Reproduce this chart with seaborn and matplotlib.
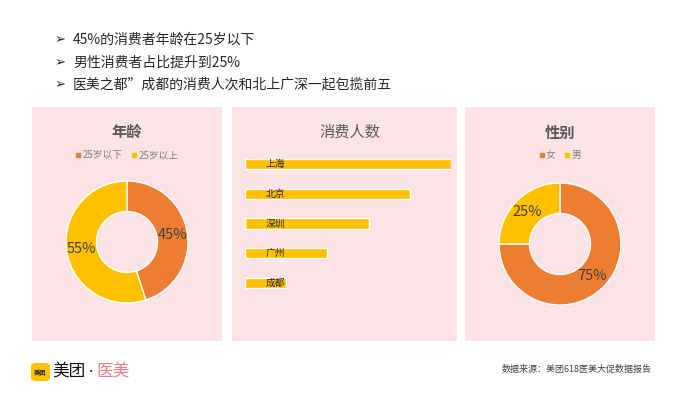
"""Meituan 618 medical-beauty consumer summary: two donuts and a bar panel."""

import matplotlib
matplotlib.use("Agg")
import matplotlib.pyplot as plt
from matplotlib.patches import Rectangle, FancyBboxPatch
from matplotlib.lines import Line2D
import seaborn as sns
import pandas as pd

sns.set_theme(style="white")
plt.rcParams['font.family'] = ['Noto Sans CJK SC', 'DejaVu Sans']
plt.rcParams['axes.unicode_minus'] = False

# data
bullets = ["45%的消费者年龄在25岁以下",
           "男性消费者占比提升到25%",
           "医美之都”成都的消费人次和北上广深一起包揽前五"]
age_labels = ["25岁以下", "25岁以上"]
age_values = [45, 55]
cities = ["上海", "北京", "深圳", "广州", "成都"]
city_values = [5, 4, 3, 2, 1]
gender_labels = ["女", "男"]
gender_values = [75, 25]

ORANGE = "#ED7D31"
YELLOW = "#FFC000"
PINK_BG = "#FCE4E6"
TITLE_C = "#595959"
TEXT_C = "#404040"

W, H = 700, 394
fig = plt.figure(figsize=(7, 3.94), dpi=100)
fig.patch.set_facecolor("white")


def px_box(x, y, w, h):
    # pixel box (top-left origin) -> figure fraction
    return [x / W, 1 - (y + h) / H, w / W, h / H]


# panel backgrounds (kept behind the axes)
for (x0, x1) in [(32, 222), (232, 457), (465, 655)]:
    fig.patches.append(Rectangle((x0 / W, 1 - 341 / H), (x1 - x0) / W, (341 - 107) / H,
                                 transform=fig.transFigure, facecolor=PINK_BG,
                                 edgecolor="none", zorder=-10))

# bullet points
for i, line in enumerate(bullets):
    yy = 1 - (40 + i * 22.5) / H
    fig.text(55 / W, yy, "➢", fontsize=9.5, color="#262626", va="center",
             family=['DejaVu Sans'])
    fig.text(73 / W, yy, line, fontsize=10, color="#262626", va="center")

# panel titles
fig.text(127 / W, 1 - 132 / H, "年龄", fontsize=11, fontweight="bold",
         color=TITLE_C, ha="center", va="center")
fig.text(350 / W, 1 - 132 / H, "消费人数", fontsize=11, color=TITLE_C,
         ha="center", va="center")
fig.text(560 / W, 1 - 133 / H, "性别", fontsize=11, fontweight="bold",
         color=TITLE_C, ha="center", va="center")


def donut(box, values, labels, legend_y):
    ax = fig.add_axes(px_box(*box))
    ax.set_zorder(2)
    wedges, _, autotexts = ax.pie(values, colors=[ORANGE, YELLOW], startangle=90,
                                  counterclock=False, autopct="%d%%", pctdistance=0.75,
                                  wedgeprops=dict(width=0.5, edgecolor="white", linewidth=1))
    for t in autotexts:
        t.set_color(TEXT_C)
        t.set_fontsize(10.5)
    ax.set_xlim(-1, 1)
    ax.set_ylim(-1, 1)
    ax.set_aspect("equal")
    handles = [Line2D([], [], marker="s", linestyle="none", markersize=3.5,
                      color=c) for c in [ORANGE, YELLOW]]
    ax.legend(handles, labels, ncol=2, frameon=False, loc="center",
              bbox_to_anchor=(0.5, legend_y), fontsize=7, handletextpad=0.15,
              handlelength=0.6, columnspacing=0.9, labelcolor="#7F7F7F")
    return ax


donut((66, 181, 122, 122), age_values, age_labels, 1.21)
donut((499, 183, 122, 122), gender_values, gender_labels, 1.23)

# city bar chart
bar_df = pd.DataFrame({"city": cities, "value": city_values})
axb = fig.add_axes(px_box(245, 149, 206, 149))
axb.set_zorder(2)
sns.barplot(data=bar_df, x="value", y="city", color=YELLOW, width=0.34,
            saturation=1, ax=axb)
axb.set_xlim(0, max(city_values))
axb.set_facecolor("none")
axb.set_xlabel("")
axb.set_ylabel("")
axb.set_xticks([])
axb.set_yticks([])
sns.despine(ax=axb, left=True, bottom=True)
for i, name in enumerate(cities):
    axb.annotate(name, xy=(0, i), xytext=(15, 0), textcoords="offset points",
                 fontsize=7, color="#262626", va="center", ha="left")

# footer logo
fig.patches.append(FancyBboxPatch((31 / W, 1 - 381 / H), 19 / W, 18 / H,
                                  boxstyle="round,pad=0,rounding_size=0.008",
                                  transform=fig.transFigure, facecolor="#FFC300",
                                  edgecolor="none"))
fig.text(40.5 / W, 1 - 372 / H, "美团", fontsize=4.5, color="#222222",
         ha="center", va="center", fontweight="bold")
fig.text(52 / W, 1 - 371 / H, "美团", fontsize=12, color="#111111", va="center")
fig.text(91 / W, 1 - 371 / H, "·", fontsize=6, color="#111111", va="center",
         ha="center", fontweight="bold")
fig.text(96 / W, 1 - 371 / H, "医美", fontsize=12, color="#EE7C84", va="center")

fig.text(652 / W, 1 - 369 / H, "数据来源：美团618医美大促数据报告", fontsize=6.5,
         color=TEXT_C, ha="right", va="center")

fig.savefig("out.png", dpi=100)
